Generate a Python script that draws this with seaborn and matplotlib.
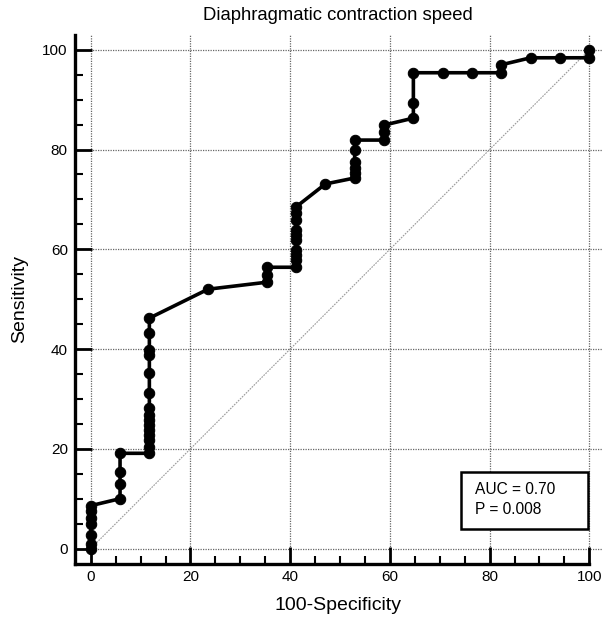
import matplotlib
matplotlib.use("Agg")
import matplotlib.pyplot as plt
from matplotlib.patches import Rectangle
from matplotlib.ticker import MultipleLocator
import pandas as pd
import seaborn as sns

# ROC points (100-Specificity, Sensitivity)
fpr = [0, 0, 0, 0, 0, 0, 0,
       5.88, 5.88, 5.88, 5.88,
       11.76, 11.76, 11.76, 11.76, 11.76, 11.76, 11.76, 11.76,
       11.76, 11.76, 11.76, 11.76, 11.76, 11.76, 11.76,
       23.53,
       35.29, 35.29, 35.29,
       41.18, 41.18, 41.18, 41.18, 41.18, 41.18, 41.18, 41.18, 41.18, 41.18,
       47.06,
       52.94, 52.94, 52.94, 52.94, 52.94, 52.94,
       58.82, 58.82, 58.82,
       64.71, 64.71, 64.71,
       70.59, 76.47, 82.35, 82.35,
       88.24, 94.12, 100, 100]
tpr = [0, 1.0, 2.8, 5.0, 6.2, 7.6, 8.6,
       10.0, 13.0, 15.3, 19.1,
       19.1, 20.3, 21.7, 22.7, 23.7, 24.7, 25.7, 26.7,
       28.1, 31.1, 35.3, 38.8, 39.8, 43.2, 46.2,
       52.0,
       53.4, 54.8, 56.4,
       56.4, 57.8, 58.8, 59.8, 61.8, 62.9, 63.9, 65.9, 67.3, 68.5,
       73.1,
       74.3, 75.3, 76.3, 77.5, 79.9, 81.9,
       81.9, 83.5, 84.9,
       86.3, 89.4, 95.4,
       95.4, 95.4, 95.4, 97.0,
       98.4, 98.4, 98.4, 100]
diag = [0, 100]
ticks = [0, 20, 40, 60, 80, 100]
auc_text = "AUC = 0.70"
p_text = "P = 0.008"

df = pd.DataFrame({"fpr": fpr, "tpr": tpr})

sns.set_style("white", rc={"text.color": "black", "axes.labelcolor": "black",
                           "xtick.color": "black", "ytick.color": "black"})
plt.rcParams["font.family"] = ["Liberation Sans", "DejaVu Sans"]

fig = plt.figure(figsize=(6.03, 6.22), dpi=100)
ax = fig.add_axes([0.124, 0.094, 0.874, 0.850])

# dotted grid and chance diagonal
for t in ticks:
    ax.axhline(t, color="#666666", lw=0.9, ls=(0, (1, 1)), zorder=0)
    ax.axvline(t, color="#666666", lw=0.9, ls=(0, (1, 1)), zorder=0)
ax.plot(diag, diag, color="#999999", lw=0.8, ls=(0, (1.5, 1)), zorder=1)

sns.lineplot(data=df, x="fpr", y="tpr", sort=False, estimator=None,
             color="black", lw=2.6, marker="o", markersize=7.5,
             markeredgecolor="black", ax=ax, zorder=3)

ax.set_xlim(-3.2, 102.5)
ax.set_ylim(-3.0, 103)
ax.set_xticks(ticks)
ax.set_yticks(ticks)
ax.xaxis.set_minor_locator(MultipleLocator(5))
ax.yaxis.set_minor_locator(MultipleLocator(5))
ax.tick_params(which="major", direction="in", length=12, width=2, labelsize=11,
               pad=5, colors="black")
ax.tick_params(which="minor", direction="in", length=6, width=1.5)
ax.tick_params(which="both", left=True, bottom=True)

for side in ["top", "right"]:
    ax.spines[side].set_visible(False)
for side in ["left", "bottom"]:
    ax.spines[side].set_linewidth(2.4)
    ax.spines[side].set_color("black")
ax.spines["bottom"].set_bounds(-3.2, 100)

ax.set_title("Diaphragmatic contraction speed", fontsize=13.3, pad=11)
ax.set_xlabel("100-Specificity", fontsize=14, labelpad=9)
ax.set_ylabel("Sensitivity", fontsize=14, labelpad=10)

# AUC box
ax.add_patch(Rectangle((74.3, 4.0), 25.5, 11.3, fill=True, facecolor="white",
                       edgecolor="black", lw=1.8, zorder=4))
ax.text(77.1, 11.9, auc_text, fontsize=11.2, va="center", ha="left", zorder=5)
ax.text(77.1, 7.8, p_text, fontsize=11.2, va="center", ha="left", zorder=5)

fig.savefig("out.png", dpi=100)
